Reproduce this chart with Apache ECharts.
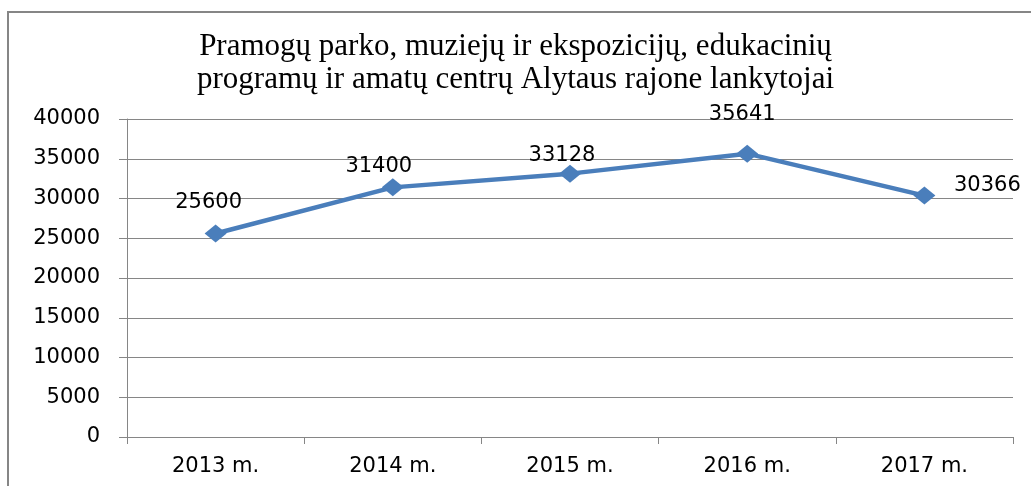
<!DOCTYPE html>
<html>
<head>
<meta charset="utf-8">
<script src="https://cdn.jsdelivr.net/npm/echarts@6/dist/echarts.min.js"></script>
<style>
  html, body { margin: 0; padding: 0; background: #fff; }
  #app { width: 1031px; height: 486px; }
</style>
</head>
<body>
<div id="app"></div>
<script>
const TITLE = 'Pramogų parko, muziejų ir ekspozicijų, edukacinių\nprogramų ir amatų centrų Alytaus rajone lankytojai';
const years = ['2013 m.', '2014 m.', '2015 m.', '2016 m.', '2017 m.'];
const visitors = [25600, 31400, 33128, 35641, 30366];
const yTicks = [0, 5000, 10000, 15000, 20000, 25000, 30000, 35000, 40000];

// label placement per point, like the original
const labelOffsets = [[-7, -31], [-14, -21], [-8, -18], [-5, -39], [63, -10]];

const chart = echarts.init(document.getElementById('app'));

const seriesData = visitors.map((v, i) => ({
  value: v,
  label: { offset: labelOffsets[i] }
}));

const txt = { fontFamily: 'DejaVu Sans', fontSize: 21, color: '#000' };

chart.setOption({
  animation: false,
  backgroundColor: '#fff',
  title: {
    text: TITLE,
    left: 'center',
    top: 25,
    textStyle: {
      fontFamily: 'Liberation Serif',
      fontWeight: 'normal',
      fontSize: 31,
      lineHeight: 33,
      color: '#000'
    }
  },
  graphic: [{
    type: 'rect',
    shape: { x: 8, y: 12, width: 1040, height: 500 },
    style: { fill: 'none', stroke: '#868686', lineWidth: 2 },
    silent: true
  }],
  grid: { left: 127, right: 18, top: 119, bottom: 49 },
  xAxis: {
    type: 'category',
    data: years,
    boundaryGap: true,
    axisLine: { lineStyle: { color: '#868686', width: 1 } },
    axisTick: { show: true, length: 7, lineStyle: { color: '#868686' } },
    axisLabel: Object.assign({ margin: 19 }, txt)
  },
  yAxis: {
    type: 'value',
    min: yTicks[0],
    max: yTicks[yTicks.length - 1],
    interval: yTicks[1] - yTicks[0],
    axisLine: { show: true, lineStyle: { color: '#868686', width: 1 } },
    axisTick: { show: true, length: 8, lineStyle: { color: '#868686' } },
    splitLine: { lineStyle: { color: '#868686', width: 1 } },
    axisLabel: Object.assign({ margin: 27, formatter: v => String(v) }, txt)
  },
  series: [{
    type: 'line',
    data: seriesData,
    symbol: 'diamond',
    symbolSize: [22, 18],
    lineStyle: { color: '#4a7ebb', width: 4.5 },
    itemStyle: { color: '#4a7ebb' },
    label: Object.assign({ show: true, position: 'inside' }, txt)
  }]
});
</script>
</body>
</html>
